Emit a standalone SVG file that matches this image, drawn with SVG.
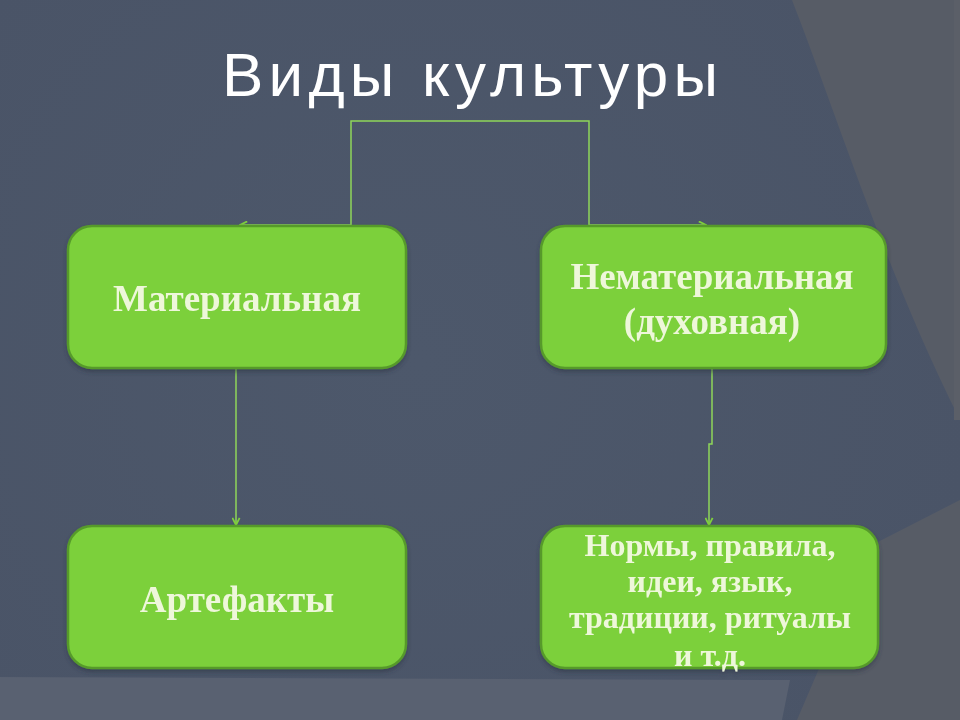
<svg xmlns="http://www.w3.org/2000/svg" width="960" height="720" viewBox="0 0 960 720">
  <defs>
    <radialGradient id="bgDark" cx="420" cy="360" r="560" gradientUnits="userSpaceOnUse">
      <stop offset="0" stop-color="#4d586b"/>
      <stop offset="1" stop-color="#4a5467"/>
    </radialGradient>
    <marker id="chev" viewBox="0 0 10 10" refX="9" refY="5" markerWidth="9" markerHeight="9" markerUnits="userSpaceOnUse" orient="auto">
      <path d="M1,1 L9,5 L1,9" fill="none" stroke="#7fd03c" stroke-width="2"/>
    </marker>
    <filter id="sh" x="-10%" y="-10%" width="120%" height="130%">
      <feDropShadow dx="0" dy="3" stdDeviation="2" flood-color="#2a3040" flood-opacity="0.5"/>
    </filter>
  </defs>
  <style>
    .box { fill: #7bd03a; stroke: #579a2c; stroke-width: 2.5; }
    .lbl { font-family: "Liberation Serif", "Times New Roman", serif; font-weight: bold; fill: #eef7da; text-anchor: middle; }
    .conn { fill: none; stroke: #8fd65a; stroke-width: 1.5; }
    .title { font-family: "Liberation Sans", Arial, sans-serif; fill: #ffffff; font-size: 62px; }
  </style>

  <!-- background -->
  <rect x="0" y="0" width="960" height="720" fill="#575c66"/>
  <path d="M0,0 H792 C835,110 885,270 960,420 V500 L872,545 L797,720 H0 Z" fill="url(#bgDark)"/>
  <path d="M0,677 L790,680 L782,720 H0 Z" fill="#596171"/>
  <rect x="954" y="0" width="6" height="420" fill="#5b5f68"/>

  <text class="title" x="222" y="96" textLength="496" lengthAdjust="spacing">Виды культуры</text>

  <g id="connectors">
    <path class="conn" d="M351,225 V121 H589 V225"/>
    <path class="conn" d="M351,225 H240" marker-end="url(#chev)"/>
    <path class="conn" d="M589,225 H706" marker-end="url(#chev)"/>
    <path class="conn" d="M236,368 V525" marker-end="url(#chev)"/>
    <path class="conn" d="M712,368 V444 H709 V525" marker-end="url(#chev)"/>
  </g>

  <g id="node-material" filter="url(#sh)">
    <rect class="box" x="68" y="226" width="338" height="142" rx="24"/>
    <text class="lbl" x="237" y="311" font-size="37">Материальная</text>
  </g>

  <g id="node-nonmaterial" filter="url(#sh)">
    <rect class="box" x="541" y="226" width="345" height="142" rx="24"/>
    <text class="lbl" x="712" y="289" font-size="37">Нематериальная</text>
    <text class="lbl" x="712" y="334" font-size="37">(духовная)</text>
  </g>

  <g id="node-artefacts" filter="url(#sh)">
    <rect class="box" x="68" y="526" width="338" height="142" rx="24"/>
    <text class="lbl" x="237" y="612" font-size="37">Артефакты</text>
  </g>

  <g id="node-norms" filter="url(#sh)">
    <rect class="box" x="541" y="526" width="337" height="142" rx="24"/>
    <text class="lbl" x="710" y="556" font-size="32">Нормы, правила,</text>
    <text class="lbl" x="710" y="592" font-size="32">идеи, язык,</text>
    <text class="lbl" x="710" y="628" font-size="32">традиции, ритуалы</text>
    <text class="lbl" x="710" y="666" font-size="32">и т.д.</text>
  </g>
</svg>
